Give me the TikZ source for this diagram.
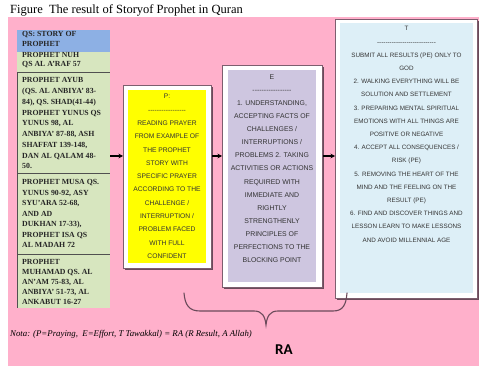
\documentclass[tikz,border=0pt]{standalone}
\usepackage{fontspec}
\setmainfont{Liberation Serif}
\newfontfamily\boxfont{Liberation Sans}
\newfontfamily\rafont{Carlito}
\usetikzlibrary{arrows.meta,shadows}
\definecolor{bgpink}{HTML}{FFB0CB}
\definecolor{hdrblue}{HTML}{8DB0E4}
\definecolor{colgreen}{HTML}{D7E6BF}
\definecolor{pyellow}{HTML}{FFFF00}
\definecolor{elav}{HTML}{CEC6E0}
\definecolor{tblue}{HTML}{DDEFF7}
\definecolor{framec}{HTML}{7D5E6E}
\definecolor{shadowc}{HTML}{6A4A5A}
\definecolor{divc}{HTML}{505050}
\newcommand\dashrow[1]{\foreach \i in {1,...,#1}{-\kern0pt}}
\tikzset{
  frame/.style={draw=framec, line width=1.1pt, fill=white, inner sep=0, anchor=north west,
    drop shadow={shadow xshift=1.2pt, shadow yshift=-1.2pt, fill=shadowc, opacity=1}},
  innerbox/.style={inner sep=0, anchor=north west},
  coltext/.style={anchor=north west, inner sep=0, align=left, text=black!85},
  boxtext/.style={anchor=north, inner sep=0, align=center, text=black!80},
  divider/.style={draw=divc, line width=0.9pt},
  arr/.style={-{Stealth[length=4.5pt,width=4.5pt]}, line width=1.3pt, black},
  brace/.style={draw=shadowc, line width=1.1pt, line cap=round}
}
\begin{document}
\begin{tikzpicture}[x=1pt,y=-1pt]
\fill[white] (0,0) rectangle (479,366);
\useasboundingbox (0,0) rectangle (479,366);
\fill[bgpink] (8,17) rectangle (479,366);
% caption
\node[anchor=base west, inner sep=0, font=\fontsize{12.5}{14}\selectfont] (cap) at (10,14) {Figure\ \ The result of Storyof Prophet in Quran};
% left column
\node[fill=colgreen, minimum width=93pt, minimum height=278pt, innerbox] (col) at (17,30) {};
\node[fill=hdrblue, minimum width=93pt, minimum height=22pt, innerbox] (hdr) at (17,30) {};
\draw[divider] (17,72) -- (110,72);
\draw[divider] (17,173) -- (110,173);
\draw[divider] (17,254) -- (110,254);
\draw[divider] (17,72) -- (17,308);
\node[coltext, font=\bfseries\fontsize{7.8}{10}\selectfont] (t1) at (22,31.5) {QS: STORY OF\\PROPHET};
\node[coltext, font=\bfseries\fontsize{7.8}{9.5}\selectfont] (t2) at (22,52) {PROPHET NUH\\QS AL A'RAF 57};
\node[coltext, font=\bfseries\fontsize{7.8}{10.75}\selectfont] (t3) at (22,77.5) {PROPHET AYUB\\(QS. AL ANBIYA' 83-\\84), QS. SHAD(41-44)\\PROPHET YUNUS QS\\YUNUS 98, AL\\ANBIYA' 87-88, ASH\\SHAFFAT 139-148,\\DAN AL QALAM 48-\\50.};
\node[coltext, font=\bfseries\fontsize{7.8}{10.5}\selectfont] (t4) at (22,179.5) {PROPHET MUSA QS.\\YUNUS 90-92, ASY\\SYU'ARA 52-68,\\AND AD\\DUKHAN 17-33),\\PROPHET ISA QS\\AL MADAH 72};
\node[coltext, font=\bfseries\fontsize{7.8}{10}\selectfont] (t5) at (22,259.5) {PROPHET\\MUHAMAD QS. AL\\AN'AM 75-83, AL\\ANBIYA' 51-73, AL\\ANKABUT 16-27};
% P box
\node[frame, minimum width=88pt, minimum height=183pt] (pframe) at (123,85) {};
\node[fill=pyellow, minimum width=78pt, minimum height=173pt, innerbox] (pin) at (128,90) {};
\node[boxtext, font=\boxfont\fontsize{6.7}{13.3}\selectfont] (ptext) at (167,94) {P:\\\dashrow{17}\\READING PRAYER\\FROM EXAMPLE OF\\THE PROPHET\\STORY WITH\\SPECIFIC PRAYER\\ACCORDING TO THE\\CHALLENGE /\\INTERRUPTION /\\PROBLEM FACED\\WITH FULL\\CONFIDENT};
% E box
\node[frame, minimum width=100pt, minimum height=222pt] (eframe) at (222,65) {};
\node[fill=elav, minimum width=88pt, minimum height=212pt, innerbox] (ein) at (228,70) {};
\node[boxtext, font=\boxfont\fontsize{6.9}{13.1}\selectfont] (etext) at (272,74.3) {E\\\dashrow{17}\\1. UNDERSTANDING,\\ACCEPTING FACTS OF\\CHALLENGES /\\INTERRUPTIONS /\\PROBLEMS 2. TAKING\\ACTIVITIES OR ACTIONS\\REQUIRED WITH\\IMMEDIATE AND\\RIGHTLY\\STRENGTHENLY\\PRINCIPLES OF\\PERFECTIONS TO THE\\BLOCKING POINT};
% T box
\node[frame, minimum width=142pt, minimum height=279pt] (tframe) at (335,19) {};
\node[fill=tblue, minimum width=133pt, minimum height=270pt, innerbox] (tin) at (340,23) {};
\node[boxtext, font=\boxfont\fontsize{6.3}{13.2}\selectfont] (ttext) at (406.5,26.3) {T\\\dashrow{28}\\SUBMIT ALL RESULTS (PE) ONLY TO\\GOD\\2. WALKING EVERYTHING WILL BE\\SOLUTION AND SETTLEMENT\\3. PREPARING MENTAL SPIRITUAL\\EMOTIONS WITH ALL THINGS ARE\\POSITIVE OR NEGATIVE\\4. ACCEPT ALL CONSEQUENCES /\\RISK (PE)\\5. REMOVING THE HEART OF THE\\MIND AND THE FEELING ON THE\\RESULT (PE)\\6. FIND AND DISCOVER THINGS AND\\LESSON LEARN TO MAKE LESSONS\\AND AVOID MILLENNIAL AGE};
% arrows
\coordinate (ay) at (0,156);
\draw[arr] (col.east |- ay) -- (pframe.west |- ay);
\draw[arr] (pframe.east |- ay) -- (eframe.west |- ay);
\draw[arr] (eframe.east |- ay) -- (tframe.west |- ay);
% brace
\coordinate (brL) at (184,293);
\coordinate (brTip) at (266,325);
\coordinate (brR) at (347,293);
\draw[brace] (brL) .. controls (185,305) and (189,311) .. (200,311) -- (254,311)
  .. controls (262,311) and (265,316) .. (brTip)
  .. controls (267,316) and (270,311) .. (278,311) -- (333,311)
  .. controls (343,311) and (346,305) .. (brR);
% note and RA
\node[anchor=base west, inner sep=0, font=\itshape\fontsize{8.8}{10}\selectfont] (note) at (10,336) {Nota: (P=Praying,\ \ E=Effort, T Tawakkal) = RA (R Result, A Allah)};
\node[inner sep=0, font=\rafont\bfseries\fontsize{15}{18}\selectfont] (ra) at (284,350) {RA};
\end{tikzpicture}
\end{document}
